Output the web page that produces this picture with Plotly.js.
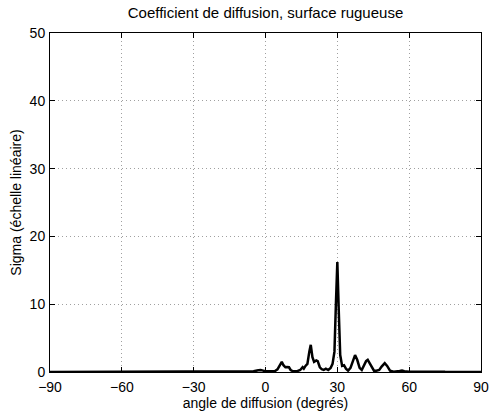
<!DOCTYPE html>
<html>
<head>
<meta charset="utf-8">
<script src="https://cdn.plot.ly/plotly-3.0.1.min.js"></script>
<style>html,body{margin:0;padding:0;background:#fff;}#chart{width:489px;height:411px;}</style>
</head>
<body>
<div id="chart"></div>
<script>
const angles = [-90, -60, -30, -10, -5, -3, -2, -1, 0, 2, 4, 5, 6, 6.8, 7.5, 8.3, 9, 9.8, 10.5, 11.5, 13, 14.5, 15.5, 16, 16.7, 17.5, 18.3, 18.9, 19.6, 20.3, 21.2, 21.8, 22.7, 23.5, 24.3, 25.2, 26.2, 27.2, 28, 28.8, 29.4, 30, 30.6, 31.2, 32, 32.8, 33.6, 34.5, 35.5, 36.5, 37.4, 38.3, 39.3, 40.2, 41, 42, 42.7, 43.5, 44.5, 45.3, 46.3, 47.5, 48.5, 49.8, 50.8, 52, 53.5, 55, 56, 57, 58, 60, 65, 68, 70, 72, 75, 90];
const sigma = [0, 0, 0.02, 0.05, 0.1, 0.25, 0.3, 0.2, 0.1, 0.1, 0.15, 0.4, 1.0, 1.5, 1.0, 0.7, 0.75, 0.7, 0.3, 0.1, 0.1, 0.3, 0.7, 0.5, 0.9, 1.2, 3.0, 4.0, 2.2, 1.5, 1.7, 1.6, 0.7, 0.4, 0.3, 0.5, 0.3, 0.6, 1.2, 3.0, 10, 16.2, 9, 2.5, 0.9, 1.0, 0.5, 0.2, 0.6, 1.8, 2.5, 1.8, 0.6, 0.3, 0.8, 1.6, 1.8, 1.3, 0.5, 0.2, 0.2, 0.3, 0.8, 1.3, 0.9, 0.2, 0.05, 0.05, 0.15, 0.2, 0.1, 0.05, 0.05, 0.1, 0.15, 0.05, 0.02, 0];
const xTicks = [-90, -60, -30, 0, 30, 60, 90];
const xTickLabels = ['\u221290', '\u221260', '\u221230', '0', '30', '60', '90'];
const yTicks = [0, 10, 20, 30, 40, 50];

const fontFam = 'Arial, Liberation Sans, sans-serif';
const trace = {
  x: angles, y: sigma, type: 'scatter', mode: 'lines',
  line: {color: '#000', width: 2.5},
  hoverinfo: 'none'
};
const axisCommon = {
  showline: true, linecolor: '#000', linewidth: 1, mirror: 'ticks',
  ticks: 'inside', ticklen: 5, tickcolor: '#000', tickwidth: 1,
  showgrid: true, gridcolor: '#a0a0a0', griddash: '1px,3px', gridwidth: 1,
  zeroline: false, tickfont: {family: fontFam, size: 14, color: '#000'}
};
const layout = {
  width: 489, height: 411,
  margin: {l: 50, r: 8, t: 33, b: 39},
  paper_bgcolor: '#fff', plot_bgcolor: '#fff',
  showlegend: false,
  title: {text: 'Coefficient de diffusion, surface rugueuse', font: {family: fontFam, size: 15, color: '#000'}, x: 0.5, xanchor: 'center', xref: 'paper', y: 0.97, yanchor: 'middle', yref: 'container'},
  xaxis: Object.assign({}, axisCommon, {
    range: [-90, 90], tickmode: 'array', tickvals: xTicks, ticktext: xTickLabels,
    ticklabelstandoff: 2,
    title: {text: 'angle de diffusion (degrés)', font: {family: fontFam, size: 14, color: '#000'}, standoff: 0}
  }),
  yaxis: Object.assign({}, axisCommon, {
    range: [0, 50], tickmode: 'array', tickvals: yTicks,
    ticklabelstandoff: 1,
    title: {text: 'Sigma (échelle linéaire)', font: {family: fontFam, size: 14, color: '#000'}, standoff: 4}
  })
};
Plotly.newPlot('chart', [trace], layout, {displayModeBar: false, staticPlot: true});
</script>
</body>
</html>
